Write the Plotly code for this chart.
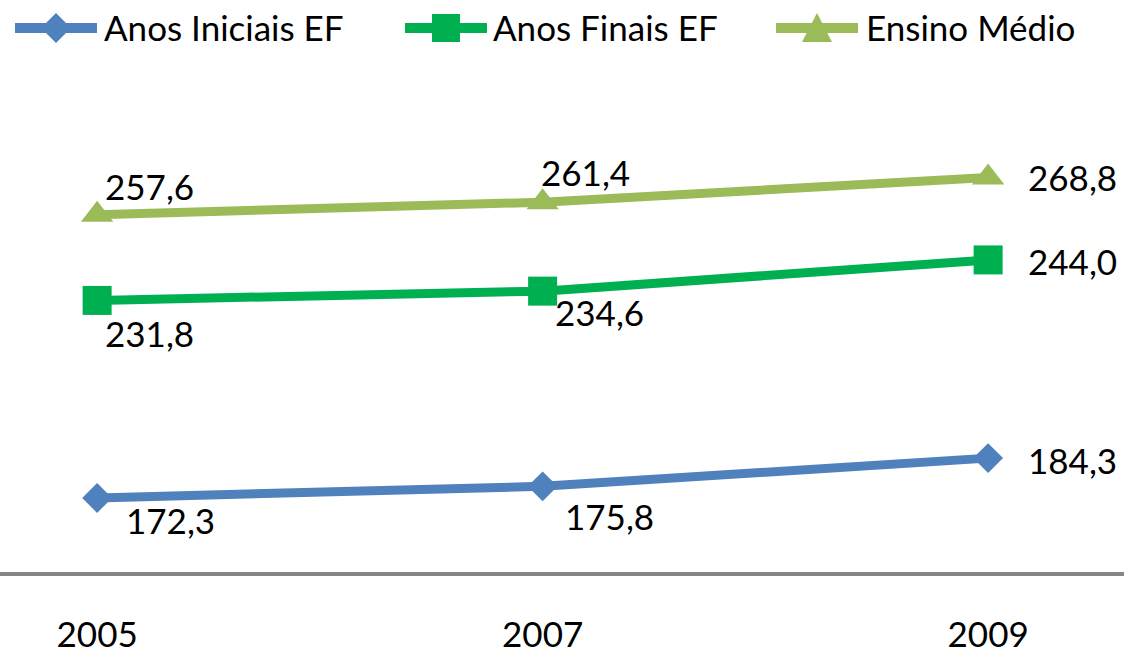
import plotly.graph_objects as go

# ---- data ----
years = ["2005", "2007", "2009"]
anos_iniciais = [172.3, 175.8, 184.3]
anos_finais = [231.8, 234.6, 244.0]
ensino_medio = [257.6, 261.4, 268.8]
series_names = ["Anos Iniciais EF", "Anos Finais EF", "Ensino Médio"]

# ---- styles ----
FONT = "Lato"
FS = 35
W, H = 1124, 654
M_T, M_B = 74, 82
colors = ["#4F81BD", "#00B050", "#9BBB59"]
symbols = ["diamond", "square", "triangle-up"]
msizes = [23, 29, 28]
LW = 9

# label offsets in px (dx to the right, dy upward), per series/point
label_offsets = [
    [(27, -22), (20, -30), (38, -2)],
    [(6, -33), (10, -21), (38, -1)],
    [(6, 29), (-4, 30), (38, 1)],
]

series = [anos_iniciais, anos_finais, ensino_medio]

fig = go.Figure()
for name, vals, col, sym, ms in zip(series_names, series, colors, symbols, msizes):
    fig.add_trace(go.Scatter(
        x=years, y=vals, name=name, mode="lines+markers",
        line=dict(color=col, width=LW),
        marker=dict(symbol=sym, size=ms, color=col, line=dict(width=0)),
        showlegend=False, cliponaxis=False, hoverinfo="skip",
    ))

annotations = []
for vals, offs in zip(series, label_offsets):
    for i, (yv, (dx, dy)) in enumerate(zip(vals, offs)):
        annotations.append(dict(
            x=i, y=yv, xref="x", yref="y",
            text=f"{yv:.1f}".replace(".", ","),
            showarrow=False, xanchor="left", yanchor="middle",
            xshift=dx, yshift=dy,
            font=dict(family=FONT, size=FS, color="black"),
        ))

# ---- custom legend (layout decoration, paper coordinates) ----
plot_h = H - M_T - M_B
def px_x(px):
    return px / W
def px_y(py):
    return (H - M_B - py) / plot_h

legend_y = 28
legend_items = [(15, 97, 56, 102), (405, 487, 446, 491), (776, 858, 817, 864)]
marker_paths = [
    "M0,15 L15,0 L0,-15 L-15,0 Z",
    "M-14,-14 L14,-14 L14,14 L-14,14 Z",
    "M-15,-14 L15,-14 L0,15 Z",
]
shapes = []
for (x0, x1, xm, xt), col, path, name in zip(legend_items, colors, marker_paths, series_names):
    shapes.append(dict(type="line", xref="paper", yref="paper",
                       x0=px_x(x0), x1=px_x(x1), y0=px_y(legend_y), y1=px_y(legend_y),
                       line=dict(color=col, width=10)))
    shapes.append(dict(type="path", xref="paper", yref="paper",
                       xsizemode="pixel", ysizemode="pixel",
                       xanchor=px_x(xm), yanchor=px_y(legend_y),
                       path=path, fillcolor=col, line=dict(width=0)))
    annotations.append(dict(x=px_x(xt), y=px_y(legend_y - 1), xref="paper", yref="paper",
                            text=name, showarrow=False, xanchor="left", yanchor="middle",
                            font=dict(family=FONT, size=FS, color="black")))

fig.update_layout(
    width=W, height=H,
    margin=dict(l=0, r=0, t=M_T, b=M_B, pad=0, autoexpand=False),
    paper_bgcolor="white", plot_bgcolor="white",
    font=dict(family=FONT, size=FS, color="black"),
    shapes=shapes, annotations=annotations,
    showlegend=False, hovermode=False,
)
fig.update_xaxes(
    type="category", range=[-0.218, 2.305], automargin=False,
    showline=True, linecolor="#868686", linewidth=4,
    showgrid=False, zeroline=False, ticks="",
    ticklabelstandoff=29,
    tickfont=dict(family=FONT, size=FS, color="black"),
)
fig.update_yaxes(range=[150, 300], visible=False, showgrid=False, zeroline=False,
                 automargin=False)

fig.write_html("out.html",
               config={"displayModeBar": False},
               post_script="document.body.style.margin='0';document.body.style.overflow='hidden';")
